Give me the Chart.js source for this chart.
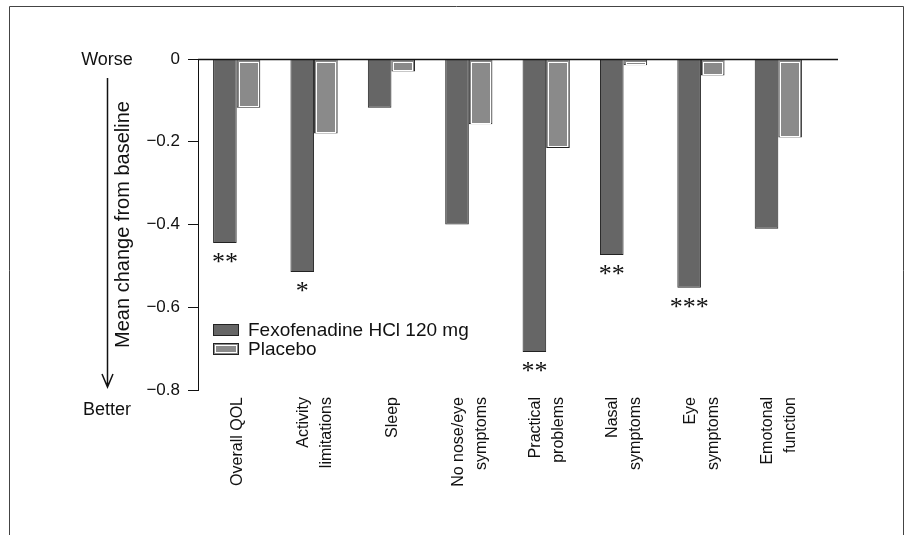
<!DOCTYPE html>
<html>
<head>
<meta charset="utf-8">
<script src="https://cdn.jsdelivr.net/npm/chart.js@4.4.1/dist/chart.umd.min.js"></script>
<style>
  html, body { margin: 0; padding: 0; background: #fff; }
  #wrap { position: relative; width: 907px; height: 535px; }
</style>
</head>
<body>
<div id="wrap"><canvas id="myChart"></canvas></div>
<script>
'use strict';

// * Categories (multi-line labels).
const categories = [
  ['Overall QOL'],
  ['Activity', 'limitations'],
  ['Sleep'],
  ['No nose/eye', 'symptoms'],
  ['Practical', 'problems'],
  ['Nasal', 'symptoms'],
  ['Eye', 'symptoms'],
  ['Emotonal', 'function'],
];
const seriesNames = ['Fexofenadine HCl 120 mg', 'Placebo'];
const fexofenadine = [-0.445, -0.515, -0.118, -0.40, -0.708, -0.474, -0.553, -0.41];
const placebo = [-0.118, -0.18, -0.03, -0.158, -0.215, -0.015, -0.04, -0.19];
const significance = ['**', '*', '', '', '**', '**', '***', ''];
const yMin = -0.8;
const yMax = 0;
const yStep = 0.2;
const yTitle = 'Mean change from baseline';
const topNote = 'Worse';
const bottomNote = 'Better';

const FONT = "'Liberation Sans', Arial, sans-serif";
const DARK = '#666666';
const LIGHT = '#8a8a8a';

const canvas = document.getElementById('myChart');
const ctx = canvas.getContext('2d');

// * Draws the frame, zero line, x labels, y title with arrow, legend and asterisks.
const extras = {
  id: 'extras',
  beforeDraw(chart) {
    const c = chart.ctx;
    c.save();
    c.strokeStyle = '#444';
    c.lineWidth = 1;
    c.beginPath();
    c.moveTo(9.5, 535);
    c.lineTo(9.5, 6.5);
    c.lineTo(903.5, 6.5);
    c.lineTo(903.5, 535);
    c.stroke();
    c.restore();
  },
  afterDatasetsDraw(chart) {
    const c = chart.ctx;
    const area = chart.chartArea;
    const x = chart.scales.x;
    const y = chart.scales.y;
    c.save();

    // placebo inner white outline
    const meta = chart.getDatasetMeta(1);
    c.strokeStyle = '#fff';
    c.lineWidth = 1;
    meta.data.forEach((bar) => {
      const p = bar.getProps(['x', 'y', 'base', 'width'], true);
      const h = p.y - p.base;
      if (h < 5) return;
      c.strokeRect(Math.round(p.x - p.width / 2) + 2.5, Math.round(p.base) + 2.5,
        Math.round(p.width) - 5, Math.round(h) - 4);
    });

    // zero line
    const y0 = Math.round(y.getPixelForValue(0)) + 0.5;
    c.strokeStyle = '#111';
    c.lineWidth = 1.5;
    c.beginPath();
    c.moveTo(area.left, y0);
    c.lineTo(area.right + 21, y0);
    c.stroke();

    // category labels, rotated, lines centred on the tick
    c.fillStyle = '#111';
    c.font = '16px ' + FONT;
    c.textAlign = 'right';
    c.textBaseline = 'middle';
    const lh = 23;
    categories.forEach((lines, i) => {
      const px = x.getPixelForTick(i);
      lines.forEach((line, j) => {
        c.save();
        c.translate(px + (j - (lines.length - 1) / 2) * lh + 1, area.bottom + 7);
        c.rotate(-Math.PI / 2);
        c.fillText(line, 0, 0);
        c.restore();
      });
    });

    // significance marks
    const dark = chart.getDatasetMeta(0);
    c.font = "26px 'Liberation Serif', serif";
    c.textAlign = 'center';
    c.textBaseline = 'top';
    dark.data.forEach((bar, i) => {
      if (!significance[i]) return;
      c.fillText(significance[i], bar.x, bar.y + 7);
    });

    // Worse / Better
    c.font = '18px ' + FONT;
    c.textBaseline = 'middle';
    c.fillText(topNote, 107, y.getPixelForValue(yMax) + 1);
    c.fillText(bottomNote, 107, y.getPixelForValue(yMin) + 20);

    // arrow and y title
    c.strokeStyle = '#111';
    c.lineWidth = 1.5;
    c.beginPath();
    c.moveTo(107.5, 78);
    c.lineTo(107.5, 387);
    c.moveTo(102, 374);
    c.lineTo(107.5, 387);
    c.lineTo(113, 374);
    c.stroke();

    c.save();
    c.translate(123, (area.top + area.bottom) / 2);
    c.rotate(-Math.PI / 2);
    c.font = '20px ' + FONT;
    c.fillText(yTitle, 0, 0);
    c.restore();

    // legend
    const colors = [DARK, LIGHT];
    c.font = '19px ' + FONT;
    c.textAlign = 'left';
    seriesNames.forEach((name, i) => {
      const ly = 330 + i * 19;
      c.fillStyle = colors[i];
      c.fillRect(213, ly - 6, 26, 12);
      c.strokeStyle = '#222';
      c.lineWidth = 1;
      c.strokeRect(213.5, ly - 5.5, 25, 11);
      if (i === 1) {
        c.strokeStyle = '#fff';
        c.strokeRect(215.5, ly - 3.5, 21, 7);
      }
      c.fillStyle = '#111';
      c.fillText(name, 248, ly + 1);
    });
    c.restore();
  },
};

const myChart = new Chart(ctx, {
  type: 'bar',
  data: {
    labels: categories,
    datasets: [
      {
        label: seriesNames[0],
        data: fexofenadine,
        backgroundColor: DARK,
        borderColor: '#222',
        borderWidth: 1,
      },
      {
        label: seriesNames[1],
        data: placebo,
        backgroundColor: LIGHT,
        borderColor: '#222',
        borderWidth: 1,
      },
    ],
  },
  options: {
    responsive: true,
    maintainAspectRatio: false,
    animation: false,
    layout: { padding: { top: 59, right: 90, bottom: 0, left: 0 } },
    datasets: { bar: { barPercentage: 1, categoryPercentage: 0.61 } },
    plugins: {
      legend: { display: false },
      tooltip: { enabled: false },
    },
    scales: {
      x: {
        grid: { display: false, drawTicks: false },
        border: { display: false },
        ticks: { display: false },
        afterFit(scale) { scale.height = 145; },
      },
      y: {
        min: yMin,
        max: yMax,
        grid: { drawOnChartArea: false, drawTicks: true, tickLength: 10, color: '#111' },
        border: { display: true, color: '#111', width: 1 },
        ticks: {
          stepSize: yStep,
          color: '#111',
          padding: 8,
          font: { family: FONT, size: 17 },
          callback: (v) => (Math.abs(v) < 1e-9 ? '0' : '\u2212' + Math.abs(v).toFixed(1)),
        },
        afterFit(scale) { scale.width = 198; },
      },
    },
  },
  plugins: [extras],
});
</script>
</body>
</html>
